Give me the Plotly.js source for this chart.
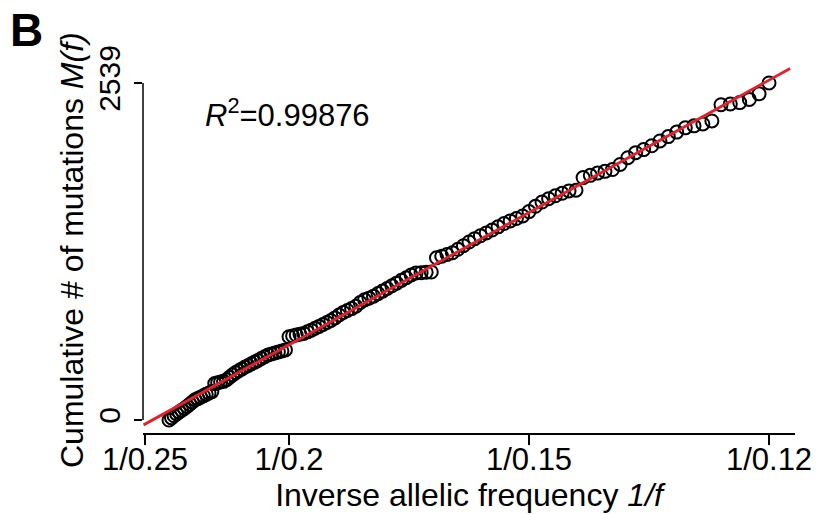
<!DOCTYPE html>
<html>
<head>
<meta charset="utf-8">
<script src="https://cdn.plot.ly/plotly-3.0.1.min.js"></script>
<style>
  html, body { margin: 0; padding: 0; background: #fff; }
  #chart { width: 821px; height: 514px; }
</style>
</head>
<body>
<div id="chart"></div>
<script>
// Allelic frequencies f of the points (x axis shows 1/f)
const freqs = [
  0.240, 0.239, 0.238, 0.237, 0.236, 0.235, 0.234, 0.233, 0.232, 0.231,
  0.230, 0.229, 0.228, 0.227, 0.226, 0.225, 0.224, 0.223, 0.222, 0.221,
  0.220, 0.219, 0.218, 0.217, 0.216, 0.215, 0.214, 0.213, 0.212, 0.211,
  0.210, 0.209, 0.208, 0.207, 0.206, 0.205, 0.204, 0.203, 0.202, 0.201,
  0.200, 0.199, 0.198, 0.197, 0.196, 0.195, 0.194, 0.193, 0.192, 0.191,
  0.190, 0.189, 0.188, 0.187, 0.186, 0.185, 0.184, 0.183, 0.182, 0.181,
  0.180, 0.179, 0.178, 0.177, 0.176, 0.175, 0.174, 0.173, 0.172, 0.171,
  0.170, 0.169, 0.168, 0.167, 0.166, 0.165, 0.164, 0.163, 0.162, 0.161,
  0.160, 0.159, 0.158, 0.157, 0.156, 0.155, 0.154, 0.153, 0.152, 0.151,
  0.150, 0.149, 0.148, 0.147, 0.146, 0.145, 0.144, 0.143, 0.142, 0.141,
  0.140, 0.139, 0.138, 0.137, 0.136, 0.135, 0.134, 0.133, 0.132, 0.131,
  0.130, 0.129, 0.128, 0.127, 0.126, 0.125, 0.124, 0.123, 0.122, 0.121,
  0.120
];
// Cumulative number of mutations M(f)
const cumMutations = [
  0, 16, 32, 46, 60, 73, 87, 102, 119, 135,
  152, 161, 172, 182, 193, 203, 214, 274, 280, 286,
  291, 303, 322, 340, 357, 371, 385, 399, 411, 424,
  436, 449, 463, 476, 490, 497, 505, 513, 520, 528,
  627, 633, 640, 646, 652, 664, 677, 691, 705, 719,
  734, 749, 769, 791, 810, 825, 839, 857, 885, 905,
  918, 933, 952, 971, 991, 1011, 1031, 1052, 1072, 1092,
  1108, 1110, 1113, 1115, 1222, 1234, 1247, 1260, 1286, 1313,
  1341, 1366, 1388, 1409, 1431, 1455, 1480, 1500, 1518, 1537,
  1570, 1610, 1642, 1667, 1689, 1708, 1726, 1731, 1826, 1843,
  1860, 1873, 1887, 1925, 1976, 2014, 2037, 2066, 2102, 2135,
  2169, 2201, 2216, 2230, 2253, 2375, 2381, 2391, 2415, 2457,
  2539
];
const xTickVals = [1/0.25, 1/0.2, 1/0.15, 1/0.12];
const xTickText = ['1/0.25', '1/0.2', '1/0.15', '1/0.12'];
const yTickVals = [0, 2539];
const yTickText = ['0', '2539'];
const rSquaredText = '0.99876';
const xTitle = 'Inverse allelic frequency <i>1/f</i>';
const yTitle = 'Cumulative # of mutations <i>M(f)</i>';
const fitRange = [3.99, 8.48];

const invF = freqs.map(f => 1 / f);

// least squares fit of M(f) against 1/f
const n = invF.length;
const mx = invF.reduce((a, b) => a + b, 0) / n;
const my = cumMutations.reduce((a, b) => a + b, 0) / n;
let sxy = 0, sxx = 0;
for (let i = 0; i < n; i++) { sxy += (invF[i] - mx) * (cumMutations[i] - my); sxx += (invF[i] - mx) ** 2; }
const slope = sxy / sxx;
const intercept = my - slope * mx;

const FONT = 'Liberation Sans, Arial, Helvetica, sans-serif';

const traces = [
  {
    x: invF, y: cumMutations, type: 'scatter', mode: 'markers',
    marker: { symbol: 'circle-open', size: 13, color: '#000', line: { width: 2, color: '#000' } },
    cliponaxis: false, hoverinfo: 'skip'
  },
  {
    x: fitRange, y: fitRange.map(v => slope * v + intercept), type: 'scatter', mode: 'lines',
    line: { color: '#e6202a', width: 2.8 }, hoverinfo: 'skip'
  }
];

const plotLeft = 143, plotRight = 795, plotTop = 60, plotBottom = 433;
const W = 821, H = 514;
const pw = plotRight - plotLeft, ph = plotBottom - plotTop;

const layout = {
  width: W, height: H,
  margin: { l: plotLeft, r: W - plotRight, t: plotTop, b: H - plotBottom },
  paper_bgcolor: '#fff', plot_bgcolor: '#fff',
  showlegend: false,
  font: { family: FONT, color: '#000' },
  xaxis: {
    range: [3.986, 3.986 + pw / 144],
    tickvals: xTickVals, ticktext: xTickText,
    showgrid: false, zeroline: false,
    showline: true, linecolor: '#000', linewidth: 1.5,
    ticks: 'outside', ticklen: 10, tickwidth: 1.5, tickcolor: '#000',
    ticklabelstandoff: -12,
    tickfont: { size: 31, family: FONT, color: '#000' },
    title: { text: xTitle, font: { size: 32, family: FONT, color: '#000' }, standoff: 2 },
    automargin: false
  },
  yaxis: {
    range: [-98, 2712],
    tickvals: yTickVals, ticktext: yTickText, tickangle: -90,
    showgrid: false, zeroline: false, showline: false,
    ticks: 'outside', ticklen: 8, tickwidth: 1.5, tickcolor: '#000',
    ticklabelstandoff: 2,
    tickfont: { size: 30, family: FONT, color: '#000' },
    automargin: false
  },
  shapes: [
    { type: 'line', xref: 'paper', yref: 'y', x0: 0, x1: 0, y0: yTickVals[0], y1: yTickVals[1], line: { color: '#000', width: 1.5 } }
  ],
  annotations: [
    { xref: 'paper', yref: 'paper', x: (72 - plotLeft) / pw, y: (plotBottom - 250) / ph,
      xanchor: 'center', yanchor: 'middle', showarrow: false, textangle: -90,
      text: yTitle, font: { size: 32, family: FONT, color: '#000' } },
    { xref: 'paper', yref: 'paper', x: (203 - plotLeft) / pw, y: (plotBottom - 113) / ph,
      xanchor: 'left', yanchor: 'middle', showarrow: false,
      text: '<i>R</i><sup>2</sup>=' + rSquaredText, font: { size: 31, family: FONT, color: '#000' } },
    { xref: 'paper', yref: 'paper', x: (8 - plotLeft) / pw, y: (plotBottom - 30) / ph,
      xanchor: 'left', yanchor: 'middle', showarrow: false,
      text: '<b>B</b>', font: { size: 46, family: FONT, color: '#000' } }
  ]
};

Plotly.newPlot('chart', traces, layout, { displayModeBar: false, staticPlot: true });
</script>
</body>
</html>
